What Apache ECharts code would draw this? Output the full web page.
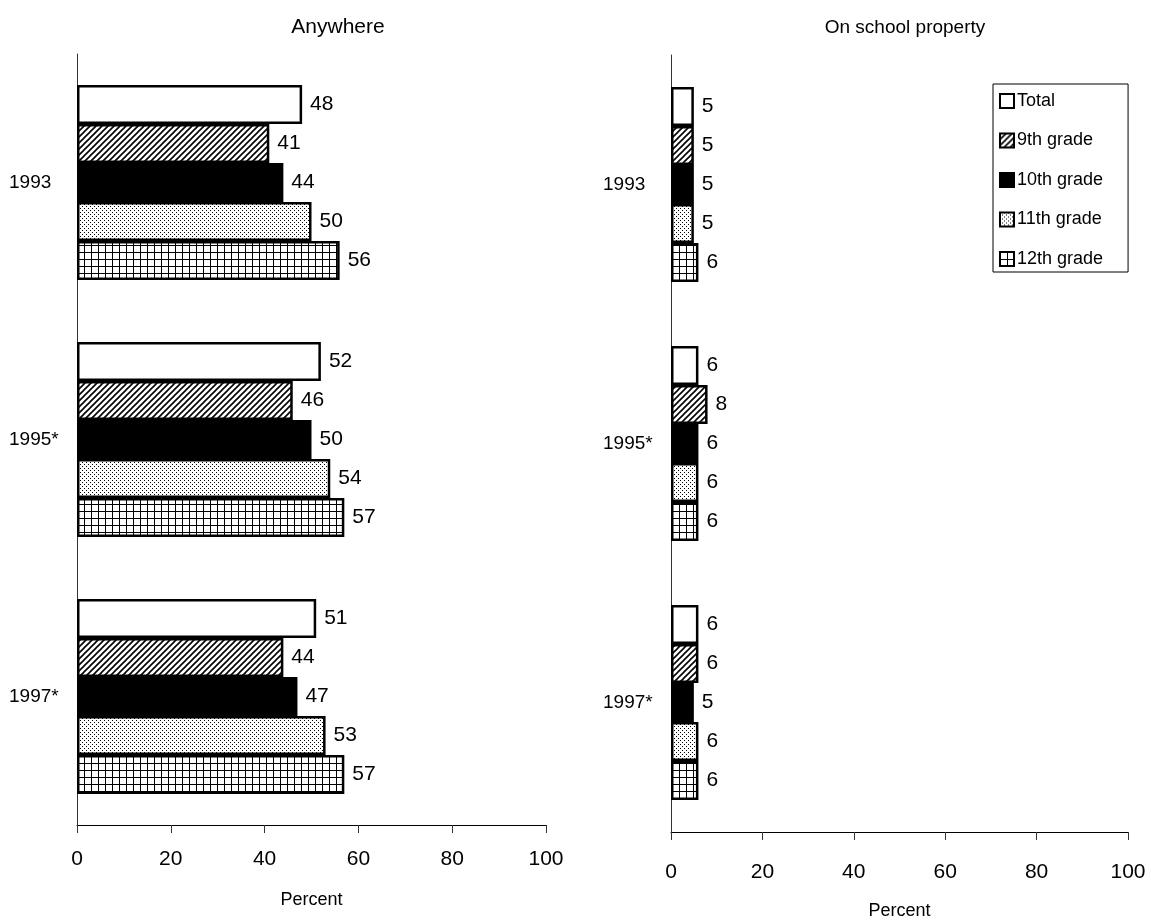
<!DOCTYPE html>
<html>
<head>
<meta charset="utf-8">
<script src="https://cdn.jsdelivr.net/npm/echarts@6/dist/echarts.min.js"></script>
<style>
  html, body { margin: 0; padding: 0; background: #fff; }
  #chart { width: 1151px; height: 924px; }
</style>
</head>
<body>
<div id="chart"></div>
<script>
// categories and series
const years = ['1993', '1995*', '1997*']
const groups = ['Total', '9th grade', '10th grade', '11th grade', '12th grade']
// Anywhere
const anyTotal = [48, 52, 51]
const any9 = [41, 46, 44]
const any10 = [44, 50, 47]
const any11 = [50, 54, 53]
const any12 = [56, 57, 57]
// On school property
const schTotal = [5, 6, 6]
const sch9 = [5, 8, 6]
const sch10 = [5, 6, 5]
const sch11 = [5, 6, 6]
const sch12 = [6, 6, 6]

const FONT = '"Liberation Sans Narrow", "Liberation Sans", Arial, sans-serif'

// fill patterns drawn on small canvases
function makeCanvas(size, draw) {
  const c = document.createElement('canvas')
  c.width = size
  c.height = size
  const ctx = c.getContext('2d')
  ctx.fillStyle = '#fff'
  ctx.fillRect(0, 0, size, size)
  ctx.fillStyle = '#000'
  ctx.strokeStyle = '#000'
  draw(ctx, size)
  return c
}
const hatch = makeCanvas(6, (ctx, s) => {
  ctx.lineWidth = 1.6
  ctx.beginPath()
  ctx.moveTo(-1, s + 1); ctx.lineTo(s + 1, -1)
  ctx.moveTo(-1, 1); ctx.lineTo(1, -1)
  ctx.moveTo(s - 1, s + 1); ctx.lineTo(s + 1, s - 1)
  ctx.stroke()
})
const dots = makeCanvas(4, (ctx) => {
  ctx.fillRect(0, 0, 1, 1)
  ctx.fillRect(2, 2, 1, 1)
})
const grid = makeCanvas(7, (ctx) => {
  ctx.fillRect(0, 0, 7, 1)
  ctx.fillRect(0, 0, 1, 7)
})
const fills = [
  '#ffffff',
  { image: hatch, repeat: 'repeat' },
  '#000000',
  { image: dots, repeat: 'repeat' },
  { image: grid, repeat: 'repeat' }
]

const anyData = [anyTotal, any9, any10, any11, any12]
const schData = [schTotal, sch9, sch10, sch11, sch12]

function makeSeries(dataSets, idx) {
  return dataSets.map((d, i) => ({
    name: groups[i],
    type: 'bar',
    xAxisIndex: idx,
    yAxisIndex: idx,
    barWidth: 39,
    barGap: '0%',
    data: d,
    itemStyle: { color: fills[i], borderColor: '#000', borderWidth: 2.5 },
    label: {
      show: true,
      position: 'right',
      distance: 8,
      fontSize: 21,
      color: '#000',
      fontFamily: FONT
    }
  }))
}

function xAxis(idx, gap, margin) {
  return {
    type: 'value',
    gridIndex: idx,
    min: 0,
    max: 100,
    interval: 20,
    name: 'Percent',
    nameLocation: 'middle',
    nameGap: gap,
    nameTextStyle: { fontSize: 18, color: '#000', fontFamily: FONT },
    splitLine: { show: false },
    axisLine: { show: true, lineStyle: { color: '#000', width: 1 } },
    axisTick: { show: true, length: 8, lineStyle: { color: '#333' } },
    axisLabel: { fontSize: 21, color: '#000', margin: margin, fontFamily: FONT }
  }
}

function yAxis(idx) {
  return {
    type: 'category',
    gridIndex: idx,
    data: years,
    inverse: true,
    axisLine: { show: true, lineStyle: { color: '#333', width: 1 } },
    axisTick: { show: false },
    axisLabel: { fontSize: 19, color: '#000', margin: 68, align: 'left', fontFamily: FONT }
  }
}

const chart = echarts.init(document.getElementById('chart'))
chart.setOption({
  animation: false,
  backgroundColor: '#fff',
  textStyle: { fontFamily: FONT },
  title: [
    {
      text: 'Anywhere',
      left: 333,
      top: 12,
      textAlign: 'center',
      textStyle: { fontSize: 21, fontWeight: 'normal', color: '#000', fontFamily: FONT }
    },
    {
      text: 'On school property',
      left: 900,
      top: 13,
      textAlign: 'center',
      textStyle: { fontSize: 19, fontWeight: 'normal', color: '#000', fontFamily: FONT }
    }
  ],
  legend: {
    orient: 'vertical',
    left: 993,
    top: 84,
    data: groups,
    selectedMode: false,
    itemWidth: 14,
    itemHeight: 14,
    itemGap: 21.5,
    padding: [8, 25, 4, 6],
    borderColor: '#000',
    borderWidth: 1,
    icon: 'rect',
    itemStyle: { borderColor: '#000', borderWidth: 2 },
    textStyle: { fontSize: 18, color: '#000', fontFamily: FONT, padding: [0, 0, 0, -2] }
  },
  grid: [
    { left: 77, right: 605, top: 54, bottom: 99, containLabel: false, outerBoundsMode: 'none' },
    { left: 671, right: 23, top: 55, bottom: 92, containLabel: false, outerBoundsMode: 'none' }
  ],
  xAxis: [xAxis(0, 66, 24), xAxis(1, 70, 30)],
  yAxis: [yAxis(0), yAxis(1)],
  series: makeSeries(anyData, 0).concat(makeSeries(schData, 1))
})
</script>
</body>
</html>
